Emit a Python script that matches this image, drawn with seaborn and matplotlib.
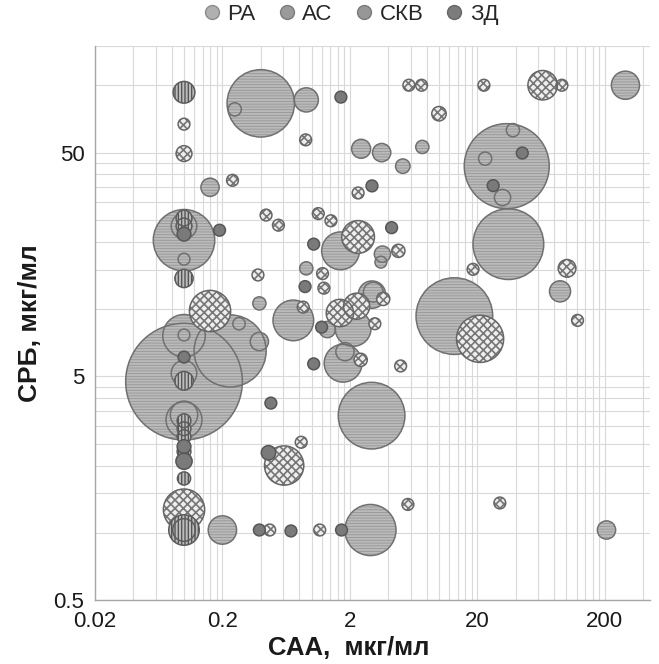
import matplotlib

matplotlib.use("Agg")
import matplotlib.pyplot as plt
import pandas as pd
import seaborn as sns
from matplotlib.lines import Line2D
from matplotlib.ticker import FixedFormatter, FixedLocator, NullFormatter

# ---------------------------------------------------------------------------
# Data: SAA (x), CRP (y) and bubble value (area) per patient group
# ---------------------------------------------------------------------------

ra_x = [0.40, 0.25, 0.91, 0.16, 2.45, 3.55, 5.2, 7.4, 34, 38, 23, 31.5, 35, 89,
        290, 13.2, 2.96, 2.9, 206, 1.69, 3.6, 3.5, 0.91, 0.39, 0.72, 2.12, 2.98,
        3.05, 1.33, 1.77, 1.83, 0.10, 0.23, 0.10, 0.10, 0.27, 0.39, 0.10, 0.10,
        0.10, 0.10, 0.10, 0.10, 0.20]
ra_y = [83, 78, 86, 35, 52, 50, 43.5, 53, 43.5, 63, 47, 31.5, 19.5, 12,
        100, 9.3, 3.34, 1.03, 1.03, 18.2, 17.6, 16.2, 15.2, 10.6, 8.9, 8.2, 11.6,
        11.9, 8.1, 5.73, 6.45, 4.74, 6.5, 7.6, 7.66, 8.6, 7.16, 5.17, 3.2,
        3.37, 20.3, 23.5, 16.7, 1.03]
ra_v = [32.7, 1.25, 4.2, 2.4, 2.6, 2.4, 1.5, 1.25, 52, 1.25, 1.25, 1.9, 36, 3.2,
        5.7, 42.3, 32, 18.8, 2.4, 10.3, 1.9, 1.0, 1.25, 1.25, 11.9, 9.3, 5.4,
        2.8, 1.9, 10.3, 2.4, 98, 37.4, 13, 1.0, 1.1, 2.4, 4.7, 9.3,
        5.4, 27.2, 4.7, 1.0, 5.8]

as_x = [0.10, 0.10, 0.90, 2.32, 5.8, 7.3, 22.5, 65, 92, 10, 101, 2.32, 4.8, 21,
        1.67, 2.26, 0.16, 0.61, 0.10, 2.43, 0.83, 1.42, 0.55, 1.25, 1.22, 3.65,
        5.0, 5.7, 30, 1.16, 0.47, 0.44, 0.38, 1.13, 122, 18.5, 0.24, 0.86, 3.14]
as_y = [67, 49.5, 57, 33, 100, 100, 100, 100, 100, 74.6, 15.2, 21, 18.2, 7.36,
        9.6, 10.3, 9.8, 2.0, 1.27, 5.93, 2.54, 24.8, 23.7, 12.4, 14.4, 11.1,
        5.57, 1.34, 1.36, 1.03, 1.03, 26.3, 14.2, 26.7, 8.9, 15.05, 37.6, 10.2, 8.6]
as_v = [1.0, 1.8, 1.0, 1.0, 1.0, 1.0, 1.0, 6.25, 1.0, 1.5, 2.25, 7.7, 1.25, 16,
        5.4, 4.9, 12.25, 11.1, 12.25, 1.25, 1.0, 1.0, 1.0, 1.0, 1.0, 1.25,
        1.0, 1.0, 1.0, 1.0, 1.0, 1.0, 1.0, 1.0, 1.0, 1.0, 1.0, 1.0, 1.0]

sle_x = [0.10, 0.10, 0.10, 0.10, 0.10, 0.10, 0.10, 0.10, 0.10, 0.10, 0.10, 0.10]
sle_y = [93, 25.5, 23.5, 13.7, 4.78, 3.17, 2.92, 2.69, 2.31, 1.75, 1.03, 1.03]
sle_v = [3.4, 1.8, 1.8, 2.4, 2.5, 1.36, 1.36, 1.36, 1.36, 1.25, 6.7, 3.7]

hd_x = [1.70, 2.98, 45, 26.6, 4.25, 1.04, 0.89, 1.04, 0.48, 0.46, 0.10, 0.10,
        0.10, 0.19, 0.10, 0.39, 0.69, 1.72, 1.2]
hd_y = [88.5, 35.5, 49.8, 35.6, 23.1, 19.5, 12.6, 5.69, 3.8, 2.28, 6.1, 2.43,
        2.09, 22.5, 21.6, 1.03, 1.02, 1.03, 8.3]
hd_v = [1.0, 1.0, 1.0, 1.0, 1.0, 1.0, 1.0, 1.0, 1.0, 1.5, 1.0, 1.36,
        1.9, 1.0, 1.36, 1.0, 1.0, 1.0, 1.0]

GROUPS = ["РА", "АС", "СКВ", "ЗД"]
X_TICKS = [0.02, 0.2, 2, 20, 200]
Y_TICKS = [0.5, 5, 50]

# face, hatch colour, hatch, hatch width, outline colour
STYLES = {
    "РА": ("#bababa", "#969696", "------", 0.6, "#707070"),
    "АС": ("#eeeeee", "#767676", "xxxx", 1.2, "#666666"),
    "СКВ": ("#bdbdbd", "#555555", "|||||", 1.0, "#5c5c5c"),
    "ЗД": ("#7a7a7a", "#7a7a7a", None, 1.0, "#575757"),
}
LEGEND_COLOURS = [("#b0b0b0", "#8c8c8c"), ("#9a9a9a", "#7c7c7c"),
                  ("#979797", "#7a7a7a"), ("#7c7c7c", "#666666")]

frames = []
for name, xs, ys, vs in [
    ("РА", ra_x, ra_y, ra_v),
    ("АС", as_x, as_y, as_v),
    ("СКВ", sle_x, sle_y, sle_v),
    ("ЗД", hd_x, hd_y, hd_v),
]:
    frames.append(pd.DataFrame({"saa": xs, "crp": ys, "val": vs, "group": name}))
df = pd.concat(frames, ignore_index=True)

# ---------------------------------------------------------------------------
# Plot
# ---------------------------------------------------------------------------

sns.set_style("white")
plt.rcParams["font.family"] = ["Liberation Sans", "DejaVu Sans"]
plt.rcParams["hatch.linewidth"] = 1.0

fig = plt.figure(figsize=(6.59, 6.64), dpi=100)
ax = fig.add_axes([0.144, 0.096, 0.842, 0.835])

bubble_kw = dict(x="saa", y="crp", size="val", sizes=(0, 7200),
                 size_norm=(0, 100), legend=False, ax=ax, zorder=3)

for name in GROUPS:
    face, hcol, hatch, hlw, edge = STYLES[name]
    sub = df[df["group"] == name].sort_values("val", ascending=False)
    # pass 1: textured fill (hatch takes the edge colour), pass 2: outlines
    sns.scatterplot(data=sub, color=face, edgecolor=hcol, linewidth=0,
                    **bubble_kw)
    coll = ax.collections[-1]
    if hatch:
        coll.set_hatch(hatch)
        if hasattr(coll, "set_hatch_linewidth"):
            coll.set_hatch_linewidth(hlw)
    sns.scatterplot(data=sub, color="none", edgecolor=edge, linewidth=1.1,
                    **bubble_kw)
    ax.collections[-1].set_facecolor("none")

ax.set_xscale("log")
ax.set_yscale("log")
ax.set_xlim(0.02, 450)
ax.set_ylim(0.5, 150)

# Excel-style minor grid: k * base for k = 2..9
x_minor = [b * k for b in [0.02, 0.2, 2, 20, 200] for k in range(2, 10)]
y_minor = [b * k for b in [0.5, 5, 50] for k in range(2, 10)]
ax.xaxis.set_major_locator(FixedLocator(X_TICKS))
ax.xaxis.set_major_formatter(FixedFormatter([f"{t:g}" for t in X_TICKS]))
ax.xaxis.set_minor_locator(FixedLocator(x_minor))
ax.xaxis.set_minor_formatter(NullFormatter())
ax.yaxis.set_major_locator(FixedLocator(Y_TICKS))
ax.yaxis.set_major_formatter(FixedFormatter([f"{t:g}" for t in Y_TICKS]))
ax.yaxis.set_minor_locator(FixedLocator(y_minor))
ax.yaxis.set_minor_formatter(NullFormatter())

ax.grid(True, which="both", color="#d9d9d9", linewidth=0.8, zorder=0)
ax.set_axisbelow(True)
for side in ["top", "right"]:
    ax.spines[side].set_visible(False)
for side in ["left", "bottom"]:
    ax.spines[side].set_color("#a6a6a6")
    ax.spines[side].set_linewidth(1.0)
ax.tick_params(which="both", direction="out", length=4, color="#a6a6a6",
               labelsize=16, labelcolor="#1a1a1a")

ax.set_xlabel("САА,  мкг/мл", fontsize=18.5, fontweight="bold", color="#1a1a1a")
ax.set_ylabel("СРБ, мкг/мл", fontsize=19, fontweight="bold", color="#1a1a1a")
ax.xaxis.set_label_coords(0.458, -0.064)
ax.yaxis.set_label_coords(-0.095, 0.5)

handles = [
    Line2D([], [], marker="o", linestyle="", markersize=10,
           markerfacecolor=c, markeredgecolor=e)
    for c, e in LEGEND_COLOURS
]
ax.legend(handles, GROUPS, loc="center", bbox_to_anchor=(0.461, 1.056),
          ncol=4, frameon=False, fontsize=16, handlelength=0.8,
          handletextpad=0.3, columnspacing=1.0, borderpad=0.1)

fig.savefig("out.png", dpi=100)
plt.close(fig)
